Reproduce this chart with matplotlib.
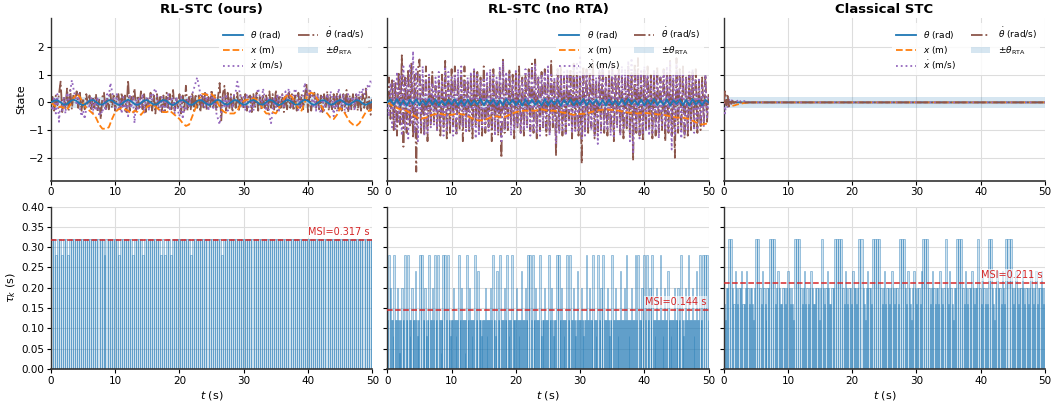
import numpy as np
import matplotlib
matplotlib.use("Agg")
from matplotlib import pyplot as plt

methods = ["RL-STC (ours)", "RL-STC (no RTA)", "Classical STC"]
msi = [0.317, 0.144, 0.211]
theta_rta = 0.2
tau_unit = 0.04  # sampling intervals are stored in units of 40 ms

# ---- RL-STC (ours) states ----
rl_theta = [0, 0.06, 0.08, 0.0, -0.08, -0.06, 0.04, 0.1, 0.05, -0.05, -0.1, -0.04, 0.06, 0.09, 0.02, -0.07, -0.08, 0.0, 0.08, 0.07,
            -0.02, -0.09, -0.06, 0.04, 0.1, 0.04, -0.06, -0.09, -0.02, 0.07, 0.08, 0.0, -0.08, -0.07, 0.03, 0.09, 0.05, -0.05, -0.1, -0.03,
            0.06, 0.09, 0.02, -0.07, -0.09, 0.0, 0.08, 0.07, -0.02, -0.09, -0.06, 0.04, 0.1, 0.04, -0.06, -0.08, 0.0, 0.08, 0.07, -0.03,
            -0.09, -0.05, 0.05, 0.09, 0.03, -0.07, -0.08, 0.01, 0.09, 0.06, -0.04, -0.1, -0.04, 0.06, 0.09, 0.01, -0.08, -0.07, 0.03, 0.1,
            0.05, -0.05, -0.09, -0.02, 0.07, 0.08, 0.0, -0.08, -0.06, 0.04, 0.09, 0.03, -0.07, -0.08, 0.01, 0.08, 0.06, -0.04, -0.09, -0.03, 0.02]
rl_x = [0, -0.1, -0.2, -0.15, -0.2, -0.25, -0.1, 0.15, 0.3, 0.2, -0.05, -0.2, -0.3, -0.4, -0.55, -0.8, -0.95, -0.95, -0.9, -0.6, -0.35,
        -0.25, -0.2, -0.25, -0.3, -0.4, -0.3, -0.35, -0.45, -0.3, -0.15, -0.1, -0.1, -0.2, -0.3, -0.35, -0.35, -0.3, -0.4, -0.5, -0.6,
        -0.75, -0.85, -0.8, -0.5, -0.2, 0.1, 0.3, 0.3, 0.25, 0.3, 0.2, -0.05, -0.25, -0.35, -0.4, -0.4, -0.4, -0.3, -0.1, 0.05,
        0.1, 0.1, 0.15, 0.1, -0.05, -0.25, -0.4, -0.4, -0.35, -0.4, -0.2, 0.05, 0.2, 0.3, 0.2, 0.0, -0.2, -0.3, 0.0, 0.3,
        0.35, 0.3, 0.1, -0.1, -0.3, -0.4, -0.55, -0.6, -0.45, -0.2, -0.3, -0.5, -0.7, -0.8, -0.85, -0.75, -0.55, -0.35, -0.3, -0.25]
rl_xdot = [0, -0.3, 0.2, -0.4, 0.3, -0.7, 0.1, -0.3, 0.2, -0.4, 0.35, 0.1, 0.4, 0.8, 0.5, 0.2,
           -0.1, 0.3, -0.2, -0.5, -0.3, -0.6, -0.2, 0.1, -0.2, 0.2, -0.4, 0.1, -0.3, 0.2, -0.5, -0.3,
           -0.4, 0.1, -0.3, 0.3, 0.2, 0.7, 0.4, 0.1, -0.2, 0.3, -0.3, 0.1, -0.4, 0.2, -0.3, 0.1,
           -0.5, 0.3, -0.2, 0.2, -0.75, 0.1, -0.3, 0.2, -0.2, 0.3, -0.4, 0.1, 0.2, -0.3, 0.3, 0.1,
           0.4, 0.5, 0.2, -0.2, -0.3, 0.2, -0.4, 0.1, -0.2, 0.3, -0.3, 0.2, 0.1, -0.4, 0.2, -0.3,
           -0.5, 0.2, -0.6, -0.2, -0.3, 0.1, -0.2, 0.2, 0.3, 0.5, 0.7, 0.9, 0.6, 0.3, -0.1, 0.2,
           -0.2, 0.3, -0.3, 0.2, 0.3, -0.2, 0.2, -0.4, -0.6, -0.8, -0.3, 0.2, -0.2, 0.3, -0.3, 0.1,
           0.2, -0.2, 0.3, 0.4, 0.75, 0.5, 0.2, -0.2, 0.2, -0.3, 0.3, -0.2, -0.4, 0.2, -0.3, 0.1,
           0.3, 0.5, 0.2, -0.2, 0.5, 0.2, -0.3, 0.2, -0.5, -0.75, -0.3, 0.2, -0.2, 0.3, -0.3, 0.2,
           0.3, -0.2, 0.4, 0.1, 0.5, 0.2, -0.2, 0.3, 0.5, 0.3, -0.3, 0.2, -0.2, 0.3, 0.7, 0.4,
           0.2, 0.5, 0.3, -0.2, 0.2, -0.3, 0.3, -0.2, -0.4, 0.2, -0.3, 0.1, 0.3, -0.2, 0.4, 0.2,
           -0.5, 0.2, -0.3, 0.5, 0.3, -0.2, 0.3, -0.4, -0.2, 0.3, -0.3, 0.1, 0.2, -0.3, 0.3, 0.1,
           0.4, 0.2, 0.5, 0.3, 0.4, 0.6, 0.5, 0.8, 0.7]
rl_thetadot = [0, 0.2, -0.3, 0.25, -0.1, 0.3, 0.75, -0.35, 0.2, -0.2, 0.5, -0.3, 0.45, -0.25, 0.3, 0.1,
               0.4, -0.2, 0.35, -0.3, 0.15, -0.25, 0.3, -0.1, 0.25, -0.3, 0.2, -0.2, 0.3, -0.35, 0.1, -0.6,
               0.2, 0.35, -0.3, 0.2, -0.25, 0.3, -0.2, 0.25, -0.3, 0.2, 0.3, -0.25, 0.35, -0.2, 0.25, -0.35,
               0.8, -0.3, 0.2, 0.1, 0.5, -0.3, 0.25, -0.2, 0.4, -0.25, 0.3, -0.35, 0.2, -0.2, 0.35, -0.3,
               0.25, -0.4, 0.3, -0.2, 0.2, -0.35, 0.25, -0.3, 0.35, -0.2, 0.3, -0.25, 0.45, -0.3, 0.2, -0.2,
               0.3, -0.4, 0.25, -0.3, 0.6, -0.3, 0.2, -0.25, 0.35, -0.3, 0.3, -0.2, 0.25, -0.35, 0.3, -0.25,
               0.4, -0.3, 0.2, -0.2, 0.45, -0.25, 0.3, -0.3, 0.2, 0.7, -0.65, 0.3, 0.6, -0.3, 0.35, -0.25,
               0.3, -0.35, 0.25, -0.2, 0.35, -0.3, 0.3, 0.1, -0.25, 0.3, -0.3, 0.2, 0.25, -0.35, 0.3, -0.2,
               0.35, -0.3, 0.2, -0.25, 0.3, -0.2, 0.25, -0.35, 0.4, -0.25, 0.3, -0.3, 0.45, -0.3, 0.2, -0.2,
               0.3, -0.35, 0.25, -0.25, 0.35, -0.2, 0.3, -0.3, 0.25, -0.3, 0.35, -0.2, 0.3, -0.25, 0.2, 0.7,
               -0.35, 0.3, -0.3, 0.25, 0.35, -0.2, 0.3, -0.3, 0.25, -0.35, 0.3, -0.2, 0.4, -0.3, 0.2, -0.25,
               0.3, -0.25, 0.35, -0.3, 0.25, -0.3, 0.3, -0.2, 0.45, -0.35, 0.25, -0.25, 0.3, -0.2, 0.35, -0.3,
               0.25, -0.3, 0.3, -0.2, 0.5, -0.25, 0.2, -0.45, 0.2]

# ---- RL-STC (no RTA) states ----
nr_theta = [0, 0.1, -0.08, 0.12, -0.1, 0.08, -0.12, 0.1, -0.06, 0.11, -0.1, 0.07, -0.09, 0.12, -0.08, 0.1, -0.11, 0.06, -0.1, 0.09,
            -0.07, 0.11, -0.1, 0.08, -0.12, 0.1, -0.09, 0.07, -0.08, 0.12, -0.1, 0.09, -0.06, 0.1, -0.11, 0.08, -0.1, 0.12, -0.07, 0.09,
            -0.1, 0.07, -0.12, 0.11, -0.08, 0.1, -0.09, 0.06, -0.11, 0.12, -0.1, 0.08, -0.07, 0.1, -0.12, 0.09, -0.08, 0.11, -0.1, 0.07,
            -0.09, 0.12, -0.1, 0.08, -0.06, 0.1, -0.11, 0.09, -0.12, 0.1, -0.08, 0.07, -0.1, 0.11, -0.09, 0.12, -0.07, 0.08, -0.1, 0.1,
            -0.11, 0.09, -0.08, 0.12, -0.1, 0.07, -0.09, 0.11, -0.12, 0.08, -0.06, 0.1, -0.1, 0.09, -0.11, 0.12, -0.08, 0.07, -0.1, 0.09, 0.0]
nr_x = [0, -0.15, -0.25, -0.3, -0.45, -0.6, -0.55, -0.45, -0.4, -0.45, -0.45, -0.4, -0.45, -0.55, -0.65, -0.65, -0.55,
        -0.5, -0.55, -0.45, -0.35, -0.3, -0.3, -0.3, -0.25, -0.3, -0.3, -0.35, -0.4, -0.45, -0.42, -0.4, -0.33, -0.28,
        -0.25, -0.27, -0.3, -0.35, -0.38, -0.4, -0.38, -0.4, -0.43, -0.45, -0.5, -0.55, -0.55, -0.6, -0.72, -0.8, -0.75]
nr_xdot = [0, -0.5, 0.7, -0.9, 0.8, -1.0, 1.1, -0.7, 1.0, -1.2, 1.3, -1.0, 0.9, -1.3, 1.4, -0.8,
           1.85, -1.1, 1.2, -1.4, 1.0, -0.9, 1.3, -1.2, 0.8, -1.1, 1.0, -0.9, 0.7, -0.8, 0.9, -1.0,
           1.1, -0.9, 0.8, -1.2, 1.3, -1.0, 1.1, -0.8, 0.9, -1.2, 1.0, -1.1, 1.2, -0.8, 1.3, -0.9,
           0.8, -1.1, 0.9, -1.0, 1.1, -0.9, 1.2, -1.3, 1.0, -1.2, 0.8, -0.9, 0.9, -1.0, 1.1, -1.1,
           1.2, -0.9, 1.0, -1.2, 0.9, -1.1, 1.3, -1.4, 1.5, -1.0, 1.1, -0.9, 1.0, -1.2, 0.8, -1.0,
           1.2, -0.9, 1.0, -1.1, 0.8, -1.0, 1.2, -0.9, 1.1, -1.2, 1.3, -1.0, 1.4, -1.1, 0.9, -1.2,
           1.0, -0.9, 1.1, -1.0, 1.3, -1.2, 1.0, -0.8, 0.9, -1.5, 1.2, -1.1, 1.0, -1.0, 1.1, -1.2,
           1.2, -0.9, 1.0, -1.1, 1.3, -1.1, 1.4, -1.0, 1.7, -1.3, 1.0, -1.2, 1.1, -0.9, 1.2, -1.0,
           1.0, -1.2, 0.9, -1.5, 1.2, -1.1, 1.3, -1.0, 0.9, -1.0, 1.1, -1.2, 1.4, -1.3, 1.0, -0.9,
           1.1, -1.2, 1.3, -1.0, 1.2, -0.9, 1.5, -1.4, 1.6, -1.8, 1.1, -1.0, 1.0, -1.3, 1.2, -1.1,
           1.3, -1.0, 1.0, -1.2, 0.9, -1.1, 1.2, -1.0, 1.1, -1.3, 0.9, -0.9, 1.2, -1.0, 1.3, -1.1,
           1.5, -1.7, 1.0, -1.2, 1.4, -1.0, 1.1, -1.3, 1.0, -1.2, 0.9, -1.0, 1.1, -0.9, 1.2, -1.1,
           0.8, -1.0, 0.9, -0.8, 0.7, -0.9, 1.0, -0.6, 0.2]
nr_thetadot = [0, 0.9, -0.6, 0.8, -1.0, 0.7, -1.2, 1.1, -0.8, 1.7, -1.6, 0.9, -1.1, 1.2, -0.9, 1.4,
               -1.3, 1.0, -2.5, 1.2, 1.55, -1.1, 0.8, -1.2, 1.3, -1.4, 0.9, -0.8, 1.1, -0.7, 0.6, -1.0,
               0.8, -1.2, 1.0, -0.9, 1.5, -1.3, 0.7, -1.1, 1.2, -0.8, 1.3, -1.2, 0.9, -1.0, 1.1, -1.4,
               1.3, -0.9, 0.8, -1.1, 1.0, -1.3, 1.2, -0.8, 1.1, -1.0, 0.9, -1.2, 1.3, -1.1, 0.7, -0.9,
               1.0, -1.4, 1.2, -1.0, 0.8, -1.2, 1.1, -2.0, 1.6, -1.1, 0.9, -1.0, 1.2, -0.8, 1.0, -1.3,
               1.1, -0.9, 1.3, -1.1, 0.9, -1.2, 1.0, -0.8, 1.2, -1.0, 1.4, -1.1, 1.55, -1.3, 0.9, -1.0,
               1.1, -0.9, 1.2, -1.2, 1.0, -1.1, 1.5, -0.9, 0.8, -1.9, 1.2, -1.0, 1.3, -1.2, 0.9, -1.1,
               1.0, -0.8, 1.2, -1.3, 1.4, -1.0, 1.1, -1.2, 0.9, -2.2, 1.3, -1.0, 1.2, -1.1, 1.0, -0.9,
               1.5, -1.3, 0.8, -1.2, 1.1, -1.0, 1.4, -1.1, 0.9, -1.2, 1.2, -1.0, 1.3, -1.4, 1.0, -0.8,
               1.2, -1.1, 0.9, -1.3, 1.0, -1.0, 1.3, -1.2, 1.1, -2.1, 1.4, -1.1, 1.6, -1.2, 1.0, -1.4,
               1.2, -1.0, 1.3, -0.9, 1.0, -1.3, 1.1, -1.2, 1.3, -1.1, 0.9, -1.0, 1.2, -1.4, 1.0, -1.1,
               1.5, -1.2, 0.8, -2.0, 1.6, -1.1, 1.2, -1.0, 1.3, -1.3, 0.9, -1.2, 1.0, -1.0, 1.1, -0.9,
               1.2, -1.1, 0.8, -1.0, 0.9, -0.8, 1.0, -0.7, 0.3]

# ---- Classical STC states (settles within ~4 s, then stays at zero) ----
cs_time = [0, 0.2, 0.4, 0.6, 0.8, 1.0, 1.2, 1.4, 1.6, 1.8, 2.0, 2.2, 2.4, 2.6, 2.8, 3.0, 3.2, 3.4, 3.6, 3.8, 4.0, 50]
cs_theta = [0, 0.05, -0.03, 0.02, -0.01, 0.01, 0, 0, 0, 0, 0, 0, 0, 0, 0, 0, 0, 0, 0, 0, 0, 0]
cs_x = [0, -0.02, -0.05, -0.08, -0.1, -0.12, -0.13, -0.12, -0.11, -0.1, -0.08, -0.07, -0.06, -0.05, -0.04, -0.03,
        -0.02, -0.02, -0.01, -0.01, 0, 0]
cs_xdot = [0, -0.4, 0.05, -0.2, 0.1, -0.05, 0.1, -0.05, 0.08, 0.0, 0.1, 0.02, 0.08, 0.03, 0.05, 0.02, 0.05,
           0.01, 0.03, 0.01, 0, 0]
cs_thetadot = [0, 0.4, -0.1, 0.3, -0.15, 0.1, -0.05, 0.05, -0.02, 0.02, 0, 0, 0, 0, 0, 0, 0, 0, 0, 0, 0, 0]

# ---- inter-sample intervals, units of 40 ms ----
rl_tau_runs = [(8, 2), (7, 1), (8, 2), (7, 1), (8, 2), (7, 1), (8, 17), (7, 1), (8, 6), (7, 1), (8, 6), (7, 1),
               (8, 4), (7, 1), (8, 8), (7, 1), (8, 1), (7, 1), (8, 2), (7, 1), (8, 9), (7, 1), (8, 14), (7, 1), (8, 73)]
nr_tau = [3, 7, 5, 3, 3, 2, 7, 3, 3, 5, 3, 3, 1, 3, 3, 5, 3, 3, 7, 3, 3, 7, 3, 2, 3, 5, 3, 3, 3, 6, 3, 2, 3, 3,
          7, 7, 3, 3, 5, 3, 2, 3, 3, 7, 3, 3, 5, 3, 7, 3, 3, 7, 3, 3, 1, 3, 3, 7, 7, 3, 7, 3, 3, 2, 3,
          3, 3, 5, 3, 3, 2, 3, 3, 7, 3, 3, 5, 3, 3, 3, 1, 3, 7, 3, 3, 5, 3, 3, 2, 3, 3, 7, 3, 3, 6, 3, 3, 3, 2, 3, 3,
          3, 3, 5, 3, 2, 3, 3, 3, 5, 3, 7, 3, 3, 2, 3, 6, 3, 3, 7, 3, 3, 3, 5, 3, 3, 7, 3, 2, 3, 3, 7, 3, 3, 3,
          3, 5, 3, 3, 2, 3, 3, 6, 3, 3, 3, 5, 3, 3, 7, 7, 3, 7, 3, 3, 5, 3, 3, 3, 7, 3, 2, 3, 3, 3, 5, 3, 3,
          3, 7, 3, 3, 5, 3, 2, 3, 3, 3, 7, 7, 3, 3, 5, 3, 3, 2, 3, 3, 7, 3, 3, 7, 3, 3, 5, 3, 3, 2, 3, 6, 3,
          3, 3, 5, 3, 3, 2, 3, 3, 7, 3, 3, 5, 3, 3, 3, 7, 3, 3, 2, 3, 7, 3, 3, 5, 3, 7, 3, 3, 3, 5, 3, 3, 2, 3, 3,
          7, 3, 3, 5, 3, 3, 2, 3, 3, 6, 3, 3, 3, 5, 3, 7, 3, 3, 2, 3, 3, 5, 3, 3, 3, 7, 3, 7, 3, 3, 3, 5, 3,
          7, 3, 7, 3, 3, 5, 3, 7, 3, 3, 2, 3, 5, 3, 3, 3, 7, 3, 3, 2, 3, 5, 3, 3, 6, 3, 3, 3, 2, 3, 3, 3, 5, 3,
          3, 3, 5, 3, 3, 7, 3, 3, 2, 3, 5, 3, 3, 7, 3, 3, 3, 5, 3, 2, 3, 3, 6, 3, 3, 7, 3, 3, 7, 7, 7, 3]
cs_tau = [4, 3, 5, 5, 8, 8, 5, 4, 6, 5, 4, 5, 5, 6, 4, 4, 5, 6, 5, 4, 5, 5, 4, 3, 5, 8,
          8, 5, 4, 6, 5, 4, 3, 5, 5, 8, 8, 8, 4, 5, 6, 5, 4, 4, 5, 5, 4, 5, 6, 5, 4,
          5, 4, 3, 8, 8, 8, 5, 4, 5, 6, 4, 5, 4, 5, 6, 5, 4, 4, 5, 5,
          5, 3, 5, 8, 5, 4, 5, 6, 5, 4, 4, 5, 5, 8, 8, 8, 8, 5, 4,
          6, 5, 4, 5, 5, 4, 6, 5, 5, 4, 5, 8, 8, 5, 4, 3, 5, 6, 5, 5, 4, 8, 8, 8, 8, 5,
          4, 5, 6, 4, 5, 5, 4, 5, 6, 5, 4, 5, 5, 4, 8, 8, 8, 5, 4, 6,
          5, 4, 3, 5, 6, 5, 4, 5, 5, 4, 6, 8, 8, 8, 5, 4, 5, 6, 5, 4, 5, 5, 4, 6,
          5, 4, 5, 8, 5, 4, 6, 5, 4, 3, 5, 5, 8, 8, 8, 5, 4, 6, 5,
          4, 5, 5, 6, 5, 4, 5, 5, 8, 5, 4, 6, 5, 4, 5, 4, 8, 8, 5, 4, 3, 5, 6, 5,
          5, 4, 6, 5, 4, 8, 8, 8, 5, 4, 5, 6, 5, 4, 5, 5, 6, 5, 4, 5, 5, 4, 5, 6, 5, 4, 5, 6, 4, 5, 5, 6, 5, 4, 5]

rl_tau = []
for code, n in rl_tau_runs:
    rl_tau += [code] * n

series_color = {"theta": "#1f77b4", "x": "#ff7f0e", "xdot": "#9467bd", "thetadot": "#8c564b"}


def on_grid(values):
    return np.linspace(0, 50, len(values))


def plot_states(ax, th, x, xd, thd, times=None, slow_on_top=True):
    band = ax.axhspan(-theta_rta, theta_rta, color="#1f77b4", alpha=0.18, lw=0, zorder=1)
    def tt(v):
        return times if times is not None else on_grid(v)
    # slow states drawn above the fast ones where they oscillate, plain order otherwise
    z = [5, 4, 3, 2] if slow_on_top else [2, 3, 4, 5]
    l_th, = ax.plot(tt(th), th, color=series_color["theta"], ls="-", lw=1.3, zorder=z[0])
    l_x, = ax.plot(tt(x), x, color=series_color["x"], ls="--", lw=1.3, zorder=z[1])
    l_xd, = ax.plot(tt(xd), xd, color=series_color["xdot"], ls=":", lw=1.3, zorder=z[2])
    l_thd, = ax.plot(tt(thd), thd, color=series_color["thetadot"], ls="-.", lw=1.3, zorder=z[3])
    leg = ax.legend([l_th, l_x, l_xd, l_thd, band],
                    [r"$\theta$ (rad)", r"$x$ (m)", r"$\dot{x}$ (m/s)", r"$\dot{\theta}$ (rad/s)",
                     r"$\pm\theta_{\rm RTA}$"],
                    loc="upper right", ncol=2, fontsize=6.5, framealpha=0.85, edgecolor="none",
                    handlelength=2.2, columnspacing=1.6, labelspacing=0.3, borderpad=0.4)
    leg.set_zorder(10)


def plot_intervals(ax, codes, msi_value):
    taus = np.array(codes) * tau_unit
    starts = np.concatenate([[0], np.cumsum(taus)[:-1]])
    ax.bar(starts, taus, width=taus, align="edge", facecolor=(0.12, 0.47, 0.71, 0.22),
           edgecolor=(0.12, 0.47, 0.71, 0.55), linewidth=0.5, zorder=2)
    ax.axhline(msi_value, color="#d62728", ls="--", lw=1.1, zorder=3)
    ax.text(49.6, msi_value + 0.008, f"MSI={msi_value:.3f} s", color="#d62728", fontsize=7,
            ha="right", va="bottom", zorder=4,
            bbox=dict(facecolor="white", edgecolor="none", alpha=0.6, pad=0.5))


fig, axes = plt.subplots(2, 3, figsize=(10.51, 4.04), dpi=100, sharey="row",
                         gridspec_kw=dict(left=0.0485, right=0.9943, top=0.955, bottom=0.087,
                                          wspace=0.047, hspace=0.16))

plot_states(axes[0, 0], rl_theta, rl_x, rl_xdot, rl_thetadot)
plot_states(axes[0, 1], nr_theta, nr_x, nr_xdot, nr_thetadot)
plot_states(axes[0, 2], cs_theta, cs_x, cs_xdot, cs_thetadot, times=cs_time, slow_on_top=False)

plot_intervals(axes[1, 0], rl_tau, msi[0])
plot_intervals(axes[1, 1], nr_tau, msi[1])
plot_intervals(axes[1, 2], cs_tau, msi[2])

for j in range(3):
    axes[0, j].set_title(methods[j], fontsize=9.5, fontweight="bold", pad=4)
    axes[1, j].set_xlabel(r"$t$ (s)", fontsize=8, labelpad=2)
    for i in range(2):
        ax = axes[i, j]
        ax.set_xlim(0, 50)
        ax.set_xticks([0, 10, 20, 30, 40, 50])
        ax.grid(True, color="#dddddd", lw=0.8, zorder=0)
        ax.set_axisbelow(True)
        ax.tick_params(labelsize=7.5, length=3, width=0.8, pad=2)
        ax.spines["top"].set_visible(False)
        ax.spines["right"].set_visible(False)
        ax.spines["left"].set_color("#333333")
        ax.spines["bottom"].set_color("#333333")
        ax.spines["left"].set_linewidth(1.0)
        ax.spines["bottom"].set_linewidth(1.2)

axes[0, 0].set_ylim(-2.82, 3.04)
axes[0, 0].set_yticks([-2, -1, 0, 1, 2])
axes[1, 0].set_ylim(0, 0.40)
axes[1, 0].set_yticks(np.arange(0, 0.401, 0.05))
axes[1, 0].yaxis.set_major_formatter(matplotlib.ticker.FormatStrFormatter("%.2f"))
axes[0, 0].set_ylabel("State", fontsize=8, labelpad=2)
axes[1, 0].set_ylabel(r"$\tau_k$ (s)", fontsize=8, labelpad=2)

fig.savefig("out.png", dpi=100)
